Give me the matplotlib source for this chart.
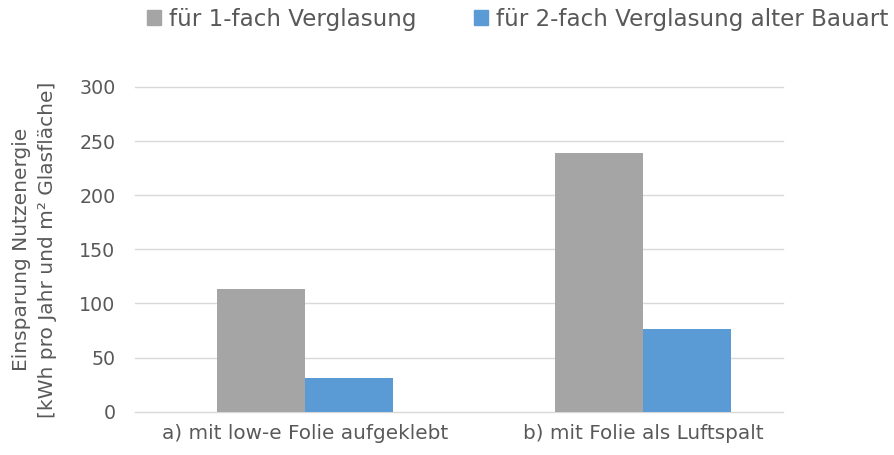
import matplotlib
matplotlib.use("Agg")
import matplotlib.pyplot as plt
from matplotlib.patches import Patch

categories = ["a) mit low-e Folie aufgeklebt", "b) mit Folie als Luftspalt"]
series_names = ["für 1-fach Verglasung", "für 2-fach Verglasung alter Bauart"]
einfach = [113, 239]
zweifach = [31, 76]
yticks = [0, 50, 100, 150, 200, 250, 300]

GRAY = "#a5a5a5"
BLUE = "#5b9bd5"
TEXT = "#595959"
GRID = "#d9d9d9"

plt.rcParams["font.family"] = ["DejaVu Sans"]

fig = plt.figure(figsize=(8.94, 4.55), dpi=100)
ax = fig.add_axes([0.151, 0.095, 0.725, 0.714])

w = 0.26
x = list(range(len(categories)))
ax.bar([i - w / 2 for i in x], einfach, width=w, color=GRAY, zorder=2)
ax.bar([i + w / 2 for i in x], zweifach, width=w, color=BLUE, zorder=2)

ax.set_xlim(-0.503, 1.414)
ax.set_ylim(0, 300)
ax.set_yticks(yticks)
ax.set_xticks(x)
ax.set_xticklabels(categories)
for y in yticks:
    ax.axhline(y, color=GRID, lw=1.0, zorder=1, clip_on=False)

for s in ax.spines.values():
    s.set_visible(False)
ax.tick_params(axis="both", length=0, colors=TEXT)
ax.tick_params(axis="y", labelsize=13.7, pad=14)
ax.tick_params(axis="x", labelsize=14.4, pad=9)

ax.set_ylabel("Einsparung Nutzenergie\n[kWh pro Jahr und m² Glasfläche]",
              color=TEXT, fontsize=14.5, labelpad=16, linespacing=1.45)

handles = [Patch(color=GRAY), Patch(color=BLUE)]
fig.legend(handles, series_names, loc="center right", bbox_to_anchor=(1.017, 0.958),
           ncol=2, frameon=False, fontsize=16.6, labelcolor=TEXT,
           handlelength=0.6, handleheight=0.6, handletextpad=0.35,
           columnspacing=2.5)

fig.savefig("out.png", dpi=100)
